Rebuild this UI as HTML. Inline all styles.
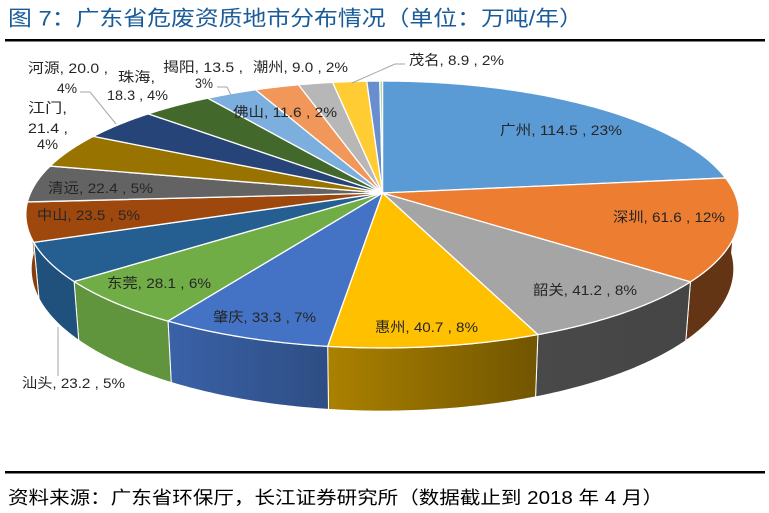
<!DOCTYPE html>
<html><head><meta charset="utf-8">
<style>
html,body{margin:0;padding:0;background:#fff;}
svg{display:block}
text{font-family:"Liberation Sans","Noto Sans CJK SC",sans-serif;}
</style></head>
<body>
<svg id="s" width="769" height="513" viewBox="0 0 769 513" xmlns="http://www.w3.org/2000/svg">
<defs id="defs"></defs>
<rect width="769" height="513" fill="#fff"/>
<text x="8" y="25.5" font-size="21" fill="#1a5b99" textLength="575" lengthAdjust="spacingAndGlyphs">图 7：广东省危废资质地市分布情况（单位：万吨/年）</text>
<rect x="5" y="39" width="760" height="2.5" fill="#000"/>
<g id="walls"></g>
<g id="tops"></g>
<g stroke="#a6a6a6" stroke-width="1" fill="none">
<polyline points="58,327 58,376"/>
<polyline points="80,92 90,92 116,124"/>
<polyline points="217,87 227,87 231,95"/>
<polyline points="405,64 395,64 352,83"/>
</g>
<g font-size="14" fill="#262626" lengthAdjust="spacingAndGlyphs">
<text x="500" y="135" textLength="122" lengthAdjust="spacingAndGlyphs">广州, 114.5 , 23%</text>
<text x="613" y="222" textLength="112" lengthAdjust="spacingAndGlyphs">深圳, 61.6 , 12%</text>
<text x="533" y="295" textLength="104" lengthAdjust="spacingAndGlyphs">韶关, 41.2 , 8%</text>
<text x="375" y="332" textLength="103" lengthAdjust="spacingAndGlyphs">惠州, 40.7 , 8%</text>
<text x="213" y="322" textLength="103" lengthAdjust="spacingAndGlyphs">肇庆, 33.3 , 7%</text>
<text x="107" y="288" textLength="104" lengthAdjust="spacingAndGlyphs">东莞, 28.1 , 6%</text>
<text x="22" y="388" textLength="103" lengthAdjust="spacingAndGlyphs">汕头, 23.2 , 5%</text>
<text x="37" y="220" textLength="103" lengthAdjust="spacingAndGlyphs">中山, 23.5 , 5%</text>
<text x="48" y="193" textLength="105" lengthAdjust="spacingAndGlyphs">清远, 22.4 , 5%</text>
<text x="28" y="113" textLength="39" lengthAdjust="spacingAndGlyphs">江门,</text>
<text x="28" y="133" textLength="40" lengthAdjust="spacingAndGlyphs">21.4 ,</text>
<text x="37" y="149" textLength="21" lengthAdjust="spacingAndGlyphs">4%</text>
<text x="28" y="73" textLength="80" lengthAdjust="spacingAndGlyphs">河源, 20.0 ,</text>
<text x="57" y="93" textLength="20" lengthAdjust="spacingAndGlyphs">4%</text>
<text x="118" y="82" textLength="37" lengthAdjust="spacingAndGlyphs">珠海,</text>
<text x="107" y="100" textLength="61" lengthAdjust="spacingAndGlyphs">18.3 , 4%</text>
<text x="163" y="72" textLength="80" lengthAdjust="spacingAndGlyphs">揭阳, 13.5 ,</text>
<text x="195" y="88" textLength="18" lengthAdjust="spacingAndGlyphs">3%</text>
<text x="253" y="72" textLength="95" lengthAdjust="spacingAndGlyphs">潮州, 9.0 , 2%</text>
<text x="409" y="65" textLength="95" lengthAdjust="spacingAndGlyphs">茂名, 8.9 , 2%</text>
<text x="233" y="117" textLength="104" lengthAdjust="spacingAndGlyphs">佛山, 11.6 , 2%</text>
</g>
<rect x="5" y="471" width="760" height="2.5" fill="#000"/>
<text x="8" y="504" font-size="18" fill="#000" textLength="655" lengthAdjust="spacingAndGlyphs">资料来源：广东省环保厅，长江证券研究所（数据截止到 2018 年 4 月）</text>
</svg>
<script>
(function(){
var NS="http://www.w3.org/2000/svg";
var cx=382.5, cy=193, A=352, B=130, k=0.161, HH=53;
var data=[[114.5,'#5B9BD5'],[61.6,'#ED7D31'],[41.2,'#A5A5A5'],[40.7,'#FFC000'],[33.3,'#4472C4'],[28.1,'#70AD47'],[23.2,'#255E91'],[23.5,'#9E480E'],[22.4,'#636363'],[21.4,'#997300'],[20.0,'#264478'],[18.3,'#43682B'],[13.5,'#7CAFDD'],[11.6,'#F1975A'],[9.0,'#B7B7B7'],[8.9,'#FFCD33'],[3.4,'#698ED0'],[0.7,'#A9D18E']];
var T=0; data.forEach(function(d){T+=d[0];});
function P(f){var u=Math.sin(f),v=-Math.cos(f),d=1-k*v;return [cx+A*u/d, cy+B*v/d, d];}
function Bt(f){var p=P(f);return [cx+(p[0]-cx)*0.985, p[1]+HH/p[2]];}
function sh(hex,f){var n=parseInt(hex.slice(1),16);var r=(n>>16)&255,g=(n>>8)&255,b=n&255;
 return 'rgb('+Math.round(r*f)+','+Math.round(g*f)+','+Math.round(b*f)+')';}
function light(f){ if(f>=3.7) return 0.86; if(f<=2.7) return 0.42; return 0.42+(f-2.7)*0.44; }
function arc(a,b,fn){var n=Math.max(2,Math.ceil(Math.abs(b-a)/0.01));var s=[];for(var i=0;i<=n;i++){var f=a+(b-a)*i/n;var p=fn(f);s.push(p[0].toFixed(2)+','+p[1].toFixed(2));}return s;}
var defs=document.getElementById('defs'), walls=document.getElementById('walls'), tops=document.getElementById('tops');
var W0=1.62, W1=4.66;
var cum=0, gi=0;
data.forEach(function(d){
  var a=cum/T*2*Math.PI; cum+=d[0]; var b=cum/T*2*Math.PI;
  // wall
  var wa=Math.max(a,W0), wb=Math.min(b,W1);
  if(wb>wa){
    var id='g'+(gi++);
    var lg=document.createElementNS(NS,'linearGradient');
    lg.setAttribute('id',id);lg.setAttribute('gradientUnits','userSpaceOnUse');
    var pa=P(wa),pb=P(wb);
    var x1=pa[0],x2=pb[0]; if(Math.abs(x1-x2)<0.5){x2=x1-0.5;}
    lg.setAttribute('x1',x1);lg.setAttribute('x2',x2);lg.setAttribute('y1',0);lg.setAttribute('y2',0);
    var s1=document.createElementNS(NS,'stop');s1.setAttribute('offset','0');s1.setAttribute('stop-color',sh(d[1],light(wa)));
    var s2=document.createElementNS(NS,'stop');s2.setAttribute('offset','1');s2.setAttribute('stop-color',sh(d[1],light(wb)));
    lg.appendChild(s1);lg.appendChild(s2);defs.appendChild(lg);
    var top=arc(wa,wb,P), bot=arc(wb,wa,Bt);
    var pth=document.createElementNS(NS,'path');
    pth.setAttribute('d','M'+top.join(' L')+' L'+bot.join(' L')+' Z');
    pth.setAttribute('fill','url(#'+id+')');
    pth.setAttribute('stroke','#ffffff');pth.setAttribute('stroke-width','1');pth.setAttribute('stroke-linejoin','round');
    walls.appendChild(pth);
  }
  // top
  var t=arc(a,b,P);
  var p2=document.createElementNS(NS,'path');
  p2.setAttribute('d','M'+cx+','+cy+' L'+t.join(' L')+' Z');
  p2.setAttribute('fill',d[1]);
  p2.setAttribute('stroke','#ffffff');p2.setAttribute('stroke-width','1.3');p2.setAttribute('stroke-linejoin','round');
  tops.appendChild(p2);
});
})();
</script>
</body></html>
